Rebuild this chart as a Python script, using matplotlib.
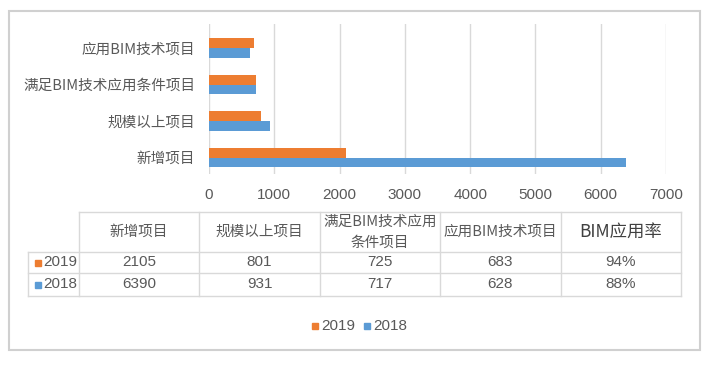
import matplotlib.pyplot as plt
from matplotlib.patches import Rectangle
from matplotlib.lines import Line2D

plt.rcParams['font.family'] = ['Noto Sans CJK SC', 'DejaVu Sans']
NUM_FONT = ['Liberation Sans', 'DejaVu Sans']

categories = ['新增项目', '规模以上项目', '满足BIM技术应用条件项目', '应用BIM技术项目']
table_headers = ['新增项目', '规模以上项目', '满足BIM技术应用\n条件项目', '应用BIM技术项目', 'BIM应用率']
years = ['2019', '2018']
values_2019 = [2105, 801, 725, 683]
values_2018 = [6390, 931, 717, 628]
rate_2019 = '94%'
rate_2018 = '88%'
xticks = [0, 1000, 2000, 3000, 4000, 5000, 6000, 7000]

c2019 = '#ED7D31'
c2018 = '#5B9BD5'
grey = '#595959'

W, H = 715, 366
fig = plt.figure(figsize=(W / 100, H / 100), dpi=100)


def fx(px):
    return px / W


def fy(py):
    return 1 - py / H


# outer frame
fig.patches.append(Rectangle((fx(9), fy(350)), fx(700) - fx(9), fy(11) - fy(350),
                             transform=fig.transFigure, fill=False,
                             edgecolor='#D0D0D0', linewidth=1.5))

ax = fig.add_axes([fx(209), fy(174), fx(666) - fx(209), fy(24) - fy(174)])
pos = list(range(len(categories)))
bh = 0.27
ax.barh([p + bh / 2 for p in pos], values_2019, height=bh, color=c2019, zorder=3)
ax.barh([p - bh / 2 for p in pos], values_2018, height=bh, color=c2018, zorder=3)
ax.set_xlim(0, 7000)
ax.set_ylim(-0.45, 3.66)
ax.set_xticks(xticks)
ax.set_xticklabels([str(t) for t in xticks], family=NUM_FONT, fontsize=11)
ax.set_yticks(pos)
ax.set_yticklabels(categories, fontsize=10.5)
ax.tick_params(length=0, colors=grey)
ax.tick_params(axis='x', pad=10)
ax.tick_params(axis='y', pad=10)
ax.xaxis.grid(True, color='#D9D9D9', linewidth=1)
ax.set_axisbelow(True)
for s in ax.spines.values():
    s.set_visible(False)

# data table
col_x = [79 + 120.4 * i for i in range(6)]
row_y = [212, 252, 273, 296]
lc = '#D9D9D9'


def hline(x0, x1, y):
    fig.lines.append(Line2D([fx(x0), fx(x1)], [fy(y), fy(y)], transform=fig.transFigure,
                            color=lc, linewidth=1))


def vline(x, y0, y1):
    fig.lines.append(Line2D([fx(x), fx(x)], [fy(y0), fy(y1)], transform=fig.transFigure,
                            color=lc, linewidth=1))


hline(col_x[0], col_x[-1], row_y[0])
for y in row_y[1:]:
    hline(28, col_x[-1], y)
for x in col_x:
    vline(x, row_y[0], row_y[-1])
vline(28, row_y[1], row_y[-1])

for i, h in enumerate(table_headers):
    cx = (col_x[i] + col_x[i + 1]) / 2
    if h == 'BIM应用率':
        fig.text(fx(cx), fy((row_y[0] + row_y[1]) / 2), h, ha='center', va='center',
                 fontsize=12.5, color='#404040')
    else:
        fig.text(fx(cx), fy((row_y[0] + row_y[1]) / 2), h, ha='center', va='center',
                 fontsize=10.5, color=grey, linespacing=1.6)

rows = [values_2019 + [rate_2019], values_2018 + [rate_2018]]
colors = [c2019, c2018]
for r, (yr, vals, c) in enumerate(zip(years, rows, colors)):
    cy = (row_y[r + 1] + row_y[r + 2]) / 2
    fig.patches.append(Rectangle((fx(35), fy(cy + 3)), fx(6), fy(0) - fy(6),
                                 transform=fig.transFigure, color=c))
    fig.text(fx(43), fy(cy), yr, ha='left', va='center', fontsize=11, color=grey,
             family=NUM_FONT)
    for i, v in enumerate(vals):
        cx = (col_x[i] + col_x[i + 1]) / 2
        fig.text(fx(cx), fy(cy), str(v), ha='center', va='center', fontsize=11, color=grey,
                 family=NUM_FONT)

# legend
for x0, yr, c in [(312, years[0], c2019), (364, years[1], c2018)]:
    fig.patches.append(Rectangle((fx(x0), fy(329)), fx(6), fy(0) - fy(6),
                                 transform=fig.transFigure, color=c))
    fig.text(fx(x0 + 9), fy(326), yr, ha='left', va='center', fontsize=11, color=grey,
             family=NUM_FONT)

fig.savefig('out.png', dpi=100)
